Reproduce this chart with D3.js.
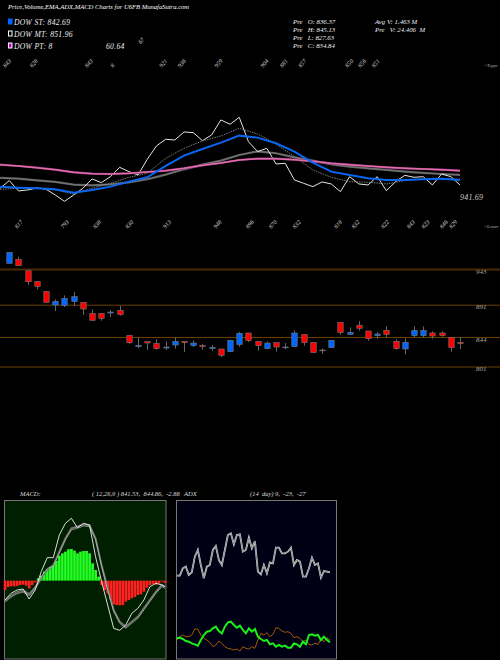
<!DOCTYPE html>
<html><head><meta charset="utf-8">
<script src="https://cdn.jsdelivr.net/npm/d3@7"></script>
<style>html,body{margin:0;background:#000}svg{display:block}text{font-family:"Liberation Serif",serif;font-style:italic;fill:#fff}</style>
</head><body><svg id="c" width="500" height="660"></svg>
<script>
const opens=[951.2,957,940.5,925,910.4,890.5,890,895.4,894.4,878.4,878.4,878.9,882.8,846.4,829.9,837.2,834.7,827.9,832.3,837.6,831.3,831.3,827,826.5,822.6,832.8,849.8,837.6,827,835.7,828.4,829.9,847.8,836.2,825,828.4,865.3,847.8,860.9,852.7,845.9,853.7,837.6,826.5,845.9,845.9,849.8,849.8,843.5,836.2];
const closes=[967.2,947.8,924.5,917.7,894.4,895.9,900.2,902.7,884.7,868.2,871.1,880.3,876.5,835.7,831.8,835.2,827,829.4,837.6,835.7,835.2,829.9,828.9,817.3,839.1,849.3,838.6,831.3,835.2,829.4,829.4,849.8,835.7,821.1,824,839.1,850.3,850.7,856.6,841.5,848.3,847.8,827,836.2,853.7,853.7,845.4,845.9,828.4,834.3];
const highs=[967.2,960.9,940.5,925,910.4,898.8,904.6,909.5,894.4,884.2,878.4,883.3,889.1,846.4,843,837.2,840.6,837.6,843.5,837.6,839.1,834.2,832.3,826.5,839.1,851.2,849.8,837.6,837.2,835.7,835.2,853.7,847.8,836.2,827.5,839.1,865.3,858,867.2,852.7,851.2,859.5,840.6,842,859.5,859.5,852.2,852.2,843.5,843.9];
const lows=[951.2,947.8,919.6,913.3,894.4,881.8,887.6,889.1,876,868.2,867.7,873.1,875,833.8,827.5,825,825.5,825,827,822.1,829.4,825.5,824,814.8,822.6,829.9,836.7,824,826,822.6,826,829.9,831.3,821.1,819.7,828.4,847.3,846.9,853.2,838.6,841.5,843.5,825.5,818.7,843.5,843.5,841.5,844.4,822.6,826.5];
const priceLevels=[943,891,844,801];

const closeLine=[822.3,836.6,817.3,819.2,822.9,820.4,809.8,798,809.8,822.3,839.7,832.9,844,861.4,853.4,847.2,876.4,901.3,913.7,912.4,927.4,926.1,911.2,921.8,949.8,941.7,954.7,909.3,890.7,896.9,867.7,868.9,837.8,831.6,825.4,834.1,830.4,816,844,830.4,828.5,844,817.9,834.7,846.5,842.8,844,828.5,849,844,828.5];
const emaBlue=[825.4,823.5,822.3,820.4,814.2,819.2,825.4,834.7,842.8,863.9,883.2,895.6,907.5,920.5,916.8,906.2,890.7,870.2,853.4,847.2,840.9,837.8,837.8,839.1,840.3,837.8];
const emaDotted=[820.4,822.3,823.5,819.2,811.7,822.3,831.6,842.8,850.3,878.2,896.9,910.6,919.9,934.2,923.6,905,881.4,856.5,842.8,834.7,833.5,830.4,836.6,840.3,840.9,839.1];
const emaGray=[841.6,840.3,837.2,834.1,829.1,827.9,829.7,833.5,839.1,847.8,857.7,866.4,873.9,884.5,891.3,887.6,880.1,873.9,867,862.7,859.6,856.5,853.4,850.9,849,847.2];
const emaPink=[866.4,863.9,860.8,857.1,852.1,849.6,849,850.3,852.7,855.2,859.6,865.2,869.5,875.1,877.6,877.6,875.7,872.6,868.9,866.4,863.9,861.4,859.6,858.3,857.1,855.2];

const highLabels=[[-0.2,"843"],[2.7,"828"],[8.7,"843"],[11.5,"8"],[14.5,"67"],[16.8,"921"],[18.8,"936"],[22.8,"959"],[27.8,"904"],[29.9,"881"],[31.9,"857"],[37,"850"],[38.4,"856"],[39.9,"851"]];
const lowLabels=[[1.2,"817"],[6.2,"793"],[9.7,"838"],[13.2,"830"],[17.3,"913"],[22.8,"948"],[26.3,"896"],[28.8,"870"],[31.4,"832"],[35.9,"818"],[37.8,"832"],[41,"822"],[43.8,"843"],[45.4,"823"],[47.4,"846"],[48.4,"829"]];

const macdHist=[-11.2,-7.6,-6.8,-6.8,-6.4,-5.2,-4.8,-6,-9.2,-5.2,-2,2.8,6,10.8,14,16.8,18.8,23.6,30,32.8,34.8,37.6,38,36,32.8,34.8,35.6,35.6,32.8,20.8,12.8,4.8,-5.2,-11.2,-15.2,-23.2,-28.4,-29.2,-29.6,-29.2,-25.2,-23.2,-21.2,-19.6,-17.2,-16.4,-13.2,-8.4,-5.2,-4,-4.8,-3.6,-1.2,-2.8];
const macdLine=[-23.2,-15.2,-11.2,-10,-22,-11.2,10.8,27.6,27.6,54.8,68.8,74.8,63.6,68.8,66.8,28.8,-1.2,-29.2,-57.2,-59.6,-53.2,-39.2,-33.2,-23.2,-7.2,-3.2,-5.2,-7.2];
const macdSignal=[-25.2,-19.2,-15.2,-13.2,-17.2,-9.2,2.8,12.8,18.8,34.8,50.8,62.8,64.8,67.6,66.8,50.8,18.8,-9.2,-35.2,-49.2,-55.2,-49.2,-43.2,-33.2,-23.2,-13.2,-5.2,-7.2];

const adxLine=[50,50,54.4,55.4,50.4,52,61.4,65.4,56.4,48.4,55.4,56.4,65.4,67.8,59.4,56.4,65.4,74.4,75.4,68.8,74.4,74.8,64.4,65.4,72.8,66.4,70.8,52.4,50.8,56.4,51.4,58,57.4,66.8,66.8,63.4,63.4,64.4,66.8,56.4,59.4,58.4,49.4,49.4,54.4,60.8,56.4,57.4,48.8,52.8,52.4,52];
const diPlus=[12.4,12.8,12,10.8,10.4,9.4,8.8,8,11.4,14.4,16.4,16.8,18.4,19.4,16.8,15.4,19.4,22,22.4,20.4,18.8,20,17.4,15.4,18.4,16.4,18,13.4,12,10.8,11.4,8.8,9.4,7.4,8.4,7.4,8,6.8,6.8,9.4,8.8,7.4,10.4,8.8,14.4,14.8,14,14.4,11.4,13.4,11.4,10];
const diMinus=[11.4,13.4,14.4,13.4,13.4,14.4,18,18,14.4,12.4,11.4,10,7.4,8.4,10.8,9.4,7.4,6.4,6,5.4,6,4.8,7.4,6.4,6,7.4,6.4,11.4,15.4,14.4,15.8,13.4,14.8,18.8,18.4,16.8,16,16.4,15.4,12.8,13.4,12.4,10.4,11.4,8.8,8.4,9.4,8.8,12,10.4,12.8,11.4];

const svg=d3.select("#c");
svg.append("rect").attr("width",500).attr("height",660).attr("fill","#000");
const x=d3.scaleLinear().domain([-1,49]).range([0.1,460]);
const yTop=d3.scaleLinear().domain([793,959]).range([204,115]);
const yPrice=d3.scaleLinear().domain([801,943]).range([366.5,269]);

function txt(t,px,py,size,opt={}){
  const e=svg.append("text").attr("x",px).attr("y",py).attr("font-size",size).text(t);
  if(opt.ls)e.attr("letter-spacing",opt.ls);
  if(opt.fill)e.style("fill",opt.fill);
  if(opt.rot)e.attr("transform",`rotate(${opt.rot} ${px} ${py})`);
  if(opt.ws)e.style("white-space","pre");
  return e;
}
txt("Price,Volume,EMA,ADX,MACD Charts for U6FB MunafaSutra.com",8,8.5,6.6);
const legendItems=[["DOW ST: 842.69",25,"#0066ff","#0066ff"],["DOW MT: 851.96",37,"#000","#fff"],["DOW PT: 8",49,"#c800c8","#fff"]];
legendItems.forEach(([t,y,f,s])=>{
  svg.append("rect").attr("x",8.5).attr("y",y-6).attr("width",3.5).attr("height",5).attr("fill",f).attr("stroke",s);
  txt(t,14,y,7.6,{ls:0.3,fill:"#eee"});
});
txt("60.64",106,49,7.6,{ls:0.3,fill:"#eee"});
[["Pre   O: 836.37",24],["Pre   H: 845.13",32],["Pre   L: 827.63",40],["Pre   C: 834.84",48]].forEach(([t,y])=>txt(t,293,y,6.8,{ws:1,fill:"#eee"}));
txt("Avg V: 1.463 M",375,24,6.8,{ws:1,fill:"#eee"});
txt("Pre   V: 24.406  M",375,32,6.8,{ws:1,fill:"#eee"});
txt("<Toppr",484,67,4.5,{fill:"#bbb"});
txt("<Lower",484,228,4.5,{fill:"#bbb"});
txt("941.69",460,200,8,{ls:0.2,fill:"#ccc"});

highLabels.forEach(([i,t])=>txt(t,x(i)-2,t==="67"?44.5:68,6,{rot:-48,fill:"#ddd"}));
lowLabels.forEach(([i,t])=>txt(t,x(i)-3,229,6,{rot:-48,fill:"#ddd"}));

const priceAxis=d3.axisRight(yPrice).tickValues(priceLevels).tickSize(0).tickPadding(0);
const gp=svg.append("g").attr("transform","translate(476,0)").call(priceAxis);
gp.select(".domain").remove();
gp.selectAll("line").attr("x1",-476).attr("x2",24).attr("stroke",(d,i)=>i===0?"#4a2c00":"#6e4000").attr("stroke-width",(d,i)=>i===0?2:1);
gp.selectAll("text").attr("font-size",7).attr("dy",4.2).attr("x",0).attr("font-family","Liberation Serif").style("fill","#aaa");

const lineIdx=(step)=>d3.line().x((d,i)=>x(i*step-1)).y(d=>yTop(d));
const up=(d,step,st,w,dash)=>{const p=svg.append("path").datum(d).attr("fill","none").attr("stroke",st).attr("stroke-width",w).attr("d",lineIdx(step));if(dash)p.attr("stroke-dasharray",dash);return p;};
up(emaGray,2,"#5c5c5c",2.2);
up(emaGray,2,"#999",0.4);
up(closeLine,1,"#e4e4e4",1);
up(emaDotted,2,"#999",0.8,"1.5 1");
up(emaPink,2,"#8a2a8a",2.2);
up(emaPink,2,"#e070a0",1.5);
up(emaBlue,2,"#0866f0",2);

const cg=svg.append("g");
d3.range(opens.length).forEach(i=>{
  const cx=Math.round(x(i))+0.5;
  cg.append("line").attr("x1",cx).attr("x2",cx).attr("y1",yPrice(highs[i])).attr("y2",yPrice(lows[i])).attr("stroke","#666");
  const t=yPrice(Math.max(opens[i],closes[i])),b=yPrice(Math.min(opens[i],closes[i]));
  cg.append("rect").attr("x",cx-2.7).attr("y",t).attr("width",5.4).attr("height",Math.max(b-t,0.8)).attr("fill",closes[i]>=opens[i]?"#0066ff":"#ff0000").attr("stroke","#777").attr("stroke-width",0.6);
});

// MACD
const mx=d3.scaleLinear().domain([0,53]).range([5,165]);
const my=d3.scaleLinear().domain([-94,96.8]).range([659,500]);
svg.append("rect").attr("x",4.5).attr("y",500.5).attr("width",161.5).attr("height",158.5).attr("fill","#001f00").attr("stroke","#777");
macdHist.forEach((v,i)=>{
  svg.append("rect").attr("x",mx(i)-1.3).attr("width",2.7).attr("y",Math.min(my(v),my(0))).attr("height",Math.abs(my(v)-my(0))).attr("fill",v>=0?"#22ff22":"#ff2020");
});
const mi=(i)=>i<27?i*2:53;
const ml=d3.line().x((d,i)=>mx(mi(i))).y(d=>my(d));
svg.append("path").datum(macdSignal).attr("fill","none").attr("stroke","#777").attr("stroke-width",1.8).attr("d",ml);
svg.append("path").datum(macdSignal.map((v,i)=>v+(i<8?2:-2))).attr("fill","none").attr("stroke","#ccc").attr("stroke-width",0.6).attr("d",ml);
svg.append("path").datum(macdLine).attr("fill","none").attr("stroke","#f0f0f0").attr("stroke-width",0.9).attr("d",ml);
txt("MACD:",20,496,6.5,{fill:"#ddd"});
txt("( 12,26,9 ) 841.53,  844.86,  -2.88",92,496,6.5,{ws:1,fill:"#ddd"});
txt("ADX",184,496,6.5,{fill:"#ddd"});
txt("(14  day) 9,  -23,  -27",250,496,6.5,{ws:1,fill:"#ddd"});

// ADX
const ax=d3.scaleLinear().domain([0,51]).range([176.8,330]);
const ay=d3.scaleLinear().domain([0,95.4]).range([659,500]);
svg.append("rect").attr("x",176.5).attr("y",500.5).attr("width",160).attr("height",158.5).attr("fill","#000014").attr("stroke","#777");
const al=d3.line().x((d,i)=>ax(i)).y(d=>ay(d));
svg.append("path").datum(adxLine).attr("fill","none").attr("stroke","#ddd").attr("stroke-width",1.8).attr("d",al);
svg.append("path").datum(adxLine).attr("fill","none").attr("stroke","#555").attr("stroke-width",0.6).attr("d",al);
svg.append("path").datum(diMinus).attr("fill","none").attr("stroke","#c87000").attr("stroke-width",0.8).attr("d",al);
svg.append("path").datum(diPlus).attr("fill","none").attr("stroke","#18f018").attr("stroke-width",2).attr("d",al);
</script></body></html>
